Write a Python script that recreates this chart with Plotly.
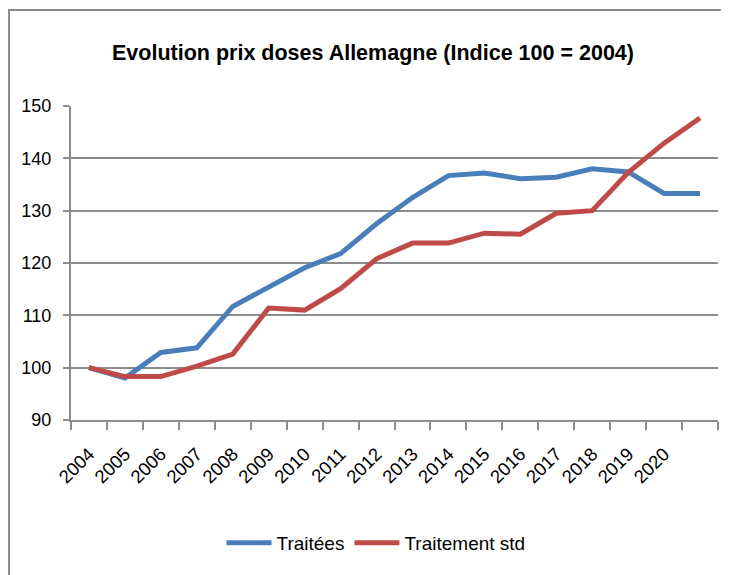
import plotly.graph_objects as go

years = list(range(2004, 2022))
tick_labels = [str(y) for y in range(2004, 2021)] + [""]
traitees = [100.0, 98.0, 102.9, 103.8, 111.7, 115.3, 119.1, 121.8, 127.5, 132.5,
            136.7, 137.2, 136.1, 136.4, 138.0, 137.4, 133.3, 133.3]
traitement_std = [100.0, 98.3, 98.3, 100.3, 102.6, 111.4, 111.0, 115.1, 120.8, 123.8,
                  123.8, 125.7, 125.5, 129.5, 130.0, 137.3, 142.9, 147.7]

FONT = "Liberation Sans, Arial, sans-serif"

# page body has an 8px margin: positions below are compensated for it
L, R, T, B = 63, 19, 98, 163
PW, PH = 729 - L - R, 575 - T - B

fig = go.Figure()
fig.add_trace(go.Scatter(x=years, y=traitees, mode="lines", name="Traitées",
                         line=dict(color="#4a7ebb", width=5)))
fig.add_trace(go.Scatter(x=years, y=traitement_std, mode="lines", name="Traitement std",
                         line=dict(color="#be4b48", width=5)))

fig.update_layout(
    width=729, height=575,
    margin=dict(l=L, r=R, t=T, b=B),
    paper_bgcolor="white", plot_bgcolor="white",
    font=dict(family=FONT, size=16, color="#000000"),
    title=dict(text="<b>Evolution prix doses Allemagne (Indice 100 = 2004)</b>",
               x=(365 - L) / PW, xanchor="center", xref="paper", y=1 - 44 / 575,
               yref="container", yanchor="middle",
               font=dict(family=FONT, size=21.5, color="#000000")),
    showlegend=True,
    legend=dict(orientation="h", x=(368 - L) / PW, xanchor="center", xref="paper",
                y=-(535 - (575 - B)) / PH, yanchor="middle", font=dict(size=19), itemwidth=45,
                tracegroupgap=0),
    xaxis=dict(range=[2003.5, 2021.5], tickmode="array", tickvals=years, ticktext=tick_labels,
               tickangle=-45, ticks="", showgrid=False, showline=True, linecolor="#8c8c8c",
               linewidth=2, zeroline=False, tickfont=dict(size=18.5), ticklabelstandoff=14,
               minor=dict(tick0=2003.5, dtick=1, ticks="outside", ticklen=8,
                          tickcolor="#8c8c8c", tickwidth=2, showgrid=False)),
    yaxis=dict(range=[90, 150], dtick=10, tick0=90, showgrid=True, gridcolor="#8c8c8c",
               gridwidth=2, showline=True, linecolor="#8c8c8c", linewidth=2,
               ticks="outside", ticklen=6, tickcolor="#8c8c8c", tickwidth=2,
               zeroline=False, tickfont=dict(size=18), ticklabelstandoff=8),
    shapes=[dict(type="rect", xref="paper", yref="paper",
                 x0=(1 - L) / PW, x1=(800 - L) / PW,
                 y0=-(700 - (575 - B)) / PH, y1=((575 - B) - 2) / PH,
                 line=dict(color="#8c8c8c", width=2), fillcolor="rgba(0,0,0,0)", layer="below")],
)

fig.write_html("out.html")
